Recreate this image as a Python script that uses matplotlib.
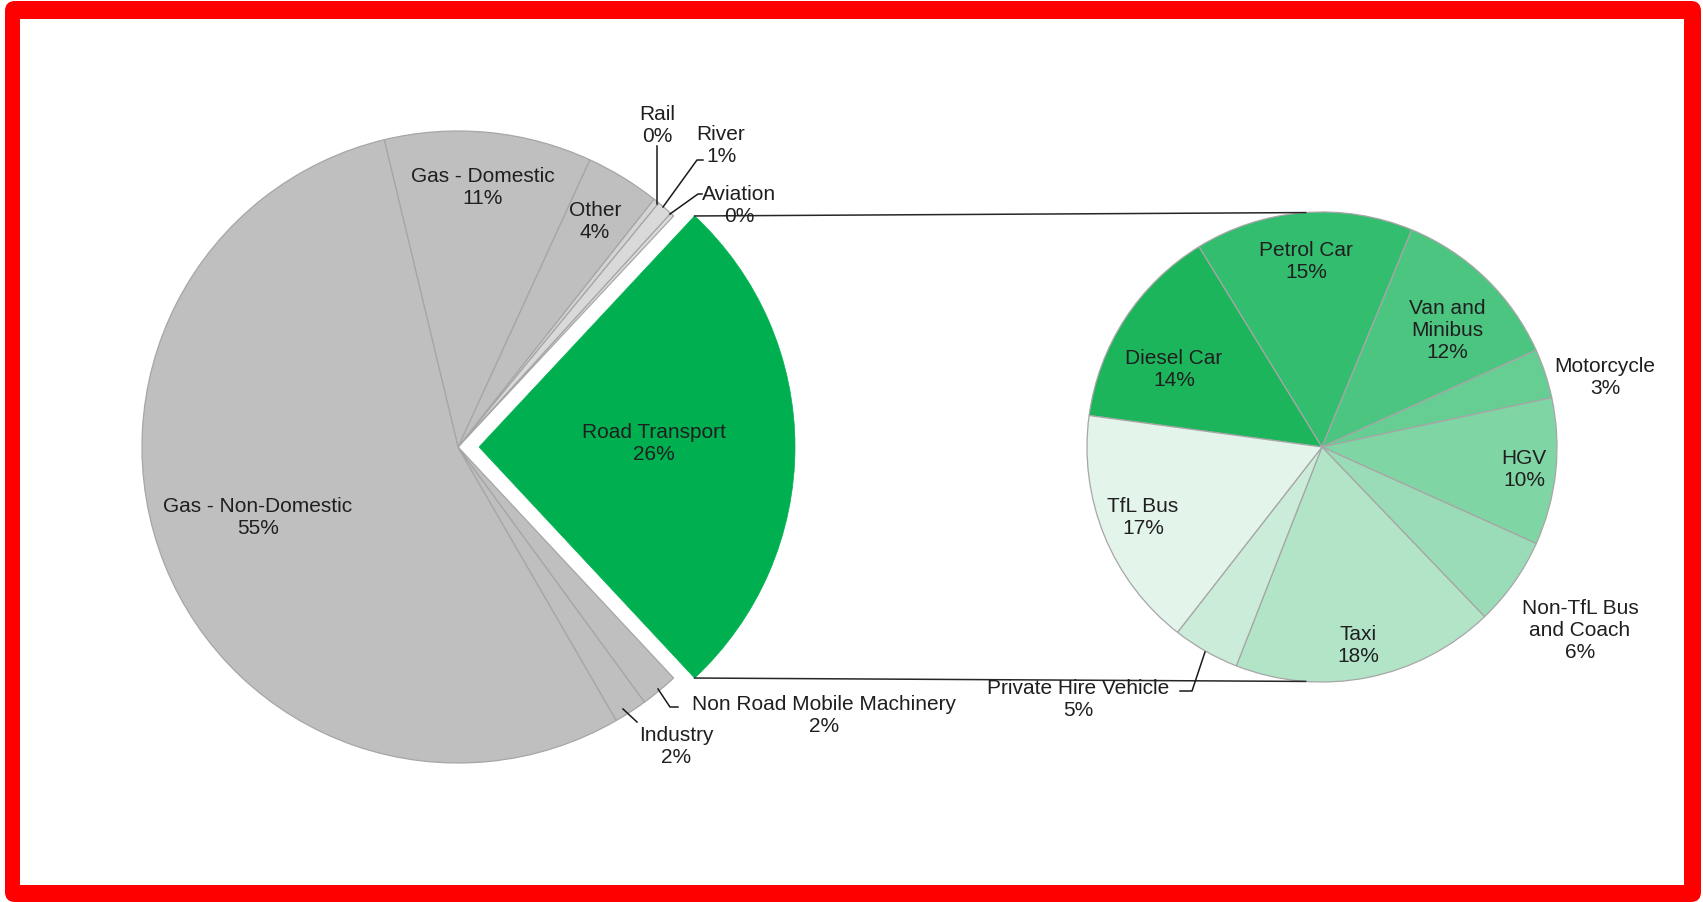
import matplotlib
matplotlib.use("Agg")
import matplotlib.pyplot as plt
from matplotlib.patches import FancyBboxPatch, Rectangle
import numpy as np

W, H = 1703, 903

# ── data ─────────────────────────────────────────────────────────────────────
main_labels = ["Road Transport", "Aviation", "River", "Rail", "Other",
               "Gas - Domestic", "Gas - Non-Domestic", "Industry",
               "Non Road Mobile Machinery"]
main_values = [26.1, 0.2, 0.8, 0.3, 3.8, 10.6, 54.6, 1.7, 1.9]

road_labels = ["Diesel Car", "Petrol Car", "Van and\nMinibus", "Motorcycle", "HGV",
               "Non-TfL Bus\nand Coach", "Taxi", "Private Hire Vehicle", "TfL Bus"]
road_values = [14.1, 15.0, 12.0, 3.4, 10.1, 6.1, 18.1, 4.6, 16.6]

# ── styling ──────────────────────────────────────────────────────────────────
plt.rcParams["font.family"] = ["Liberation Sans", "DejaVu Sans"]
FS = 15
TXT = "#1f1f1f"
EDGE = "#a6a6a6"

main_colors = ["#00b050", "#dcdcdc", "#d9d9d9", "#d4d4d4", "#bfbfbf",
               "#bfbfbf", "#bfbfbf", "#bfbfbf", "#bfbfbf"]
road_colors = ["#1db55c", "#33bd6e", "#4cc581", "#66cd93", "#80d5a5",
               "#9adcb7", "#b2e4c8", "#cbecd9", "#e3f4ea"]


def Y(y):
    # layout positions are measured from the top edge
    return H - y


fig = plt.figure(figsize=(W / 100, H / 100), dpi=100)
fig.patch.set_facecolor("white")
ax = fig.add_axes([0, 0, 1, 1])

# red frame
ax.add_patch(FancyBboxPatch((5, 0), 1696, 901, boxstyle="round,pad=0,rounding_size=10",
                            facecolor="#ff0000", edgecolor="none", zorder=0))
ax.add_patch(Rectangle((20, Y(886)), 1664, 866, facecolor="white",
                       edgecolor="none", zorder=0.5))

# ── main pie ─────────────────────────────────────────────────────────────────
c1, r1 = (458, Y(448)), 316
explode_px = 21          # pie() takes the offset in data units
start1 = -main_values[0] / sum(main_values) * 360 / 2
explode = [explode_px] + [0] * (len(main_values) - 1)
wedges1, _ = ax.pie(main_values, colors=main_colors, startangle=start1,
                    counterclock=True, explode=explode, center=c1, radius=r1,
                    frame=True, wedgeprops=dict(edgecolor=EDGE, linewidth=0.9))
wedges1[0].set_edgecolor("#00b050")
wedges1[0].set_linewidth(0.5)

# ── breakdown pie ────────────────────────────────────────────────────────────
c2, r2 = (1322, Y(448)), 235
ax.pie(road_values, colors=road_colors, startangle=172.3, counterclock=False,
       center=c2, radius=r2, frame=True,
       wedgeprops=dict(edgecolor=EDGE, linewidth=0.9))

# connector lines from the exploded slice corners to the second pie
half = np.deg2rad(main_values[0] / sum(main_values) * 360 / 2)
ex_c = (c1[0] + explode_px, c1[1])
for sgn in (1, -1):
    p0 = (ex_c[0] + r1 * np.cos(half), ex_c[1] + sgn * r1 * np.sin(half))
    a2 = np.deg2rad(94)
    p1 = (c2[0] + r2 * np.cos(a2), c2[1] + sgn * r2 * np.sin(a2))
    ax.plot([p0[0], p1[0]], [p0[1], p1[1]], color="#262626", lw=1.1, zorder=1)

# ── labels ───────────────────────────────────────────────────────────────────
main_pos = {
    "Road Transport": (654, 444),
    "Aviation": (739, 205),
    "River": (721, 145),
    "Rail": (657, 125),
    "Other": (595, 221),
    "Gas - Domestic": (483, 188),
    "Gas - Non-Domestic": (258, 518),
    "Industry": (676, 747),
    "Non Road Mobile Machinery": (824, 716),
}
for name, val in zip(main_labels, main_values):
    x, y = main_pos[name]
    ax.text(x, Y(y), f"{name}\n{val:.0f}%", ha="center", va="center",
            multialignment="center", fontsize=FS, color=TXT, zorder=5)

road_pos = {
    "Diesel Car": (1174, 370),
    "Petrol Car": (1306, 261),
    "Van and\nMinibus": (1447, 331),
    "Motorcycle": (1605, 377),
    "HGV": (1524, 470),
    "Non-TfL Bus\nand Coach": (1580, 630),
    "Taxi": (1358, 646),
    "Private Hire Vehicle": (1078, 699),
    "TfL Bus": (1143, 518),
}
for name, val in zip(road_labels, road_values):
    x, y = road_pos[name]
    ax.text(x, Y(y), f"{name}\n{val:.0f}%", ha="center", va="center",
            multialignment="center", fontsize=FS, color=TXT, zorder=5)

# leader lines for the thin slices
leaders = [
    [(657, 147), (657, 205)],                   # Rail
    [(703, 161), (697, 161), (663, 208)],       # River
    [(702, 195), (698, 195), (670, 215)],       # Aviation
    [(658, 690), (670, 708), (678, 708)],       # Non Road Mobile Machinery
    [(623, 710), (637, 723)],                   # Industry
    [(1205, 653), (1192, 692), (1180, 692)],    # Private Hire Vehicle
]
for pts in leaders:
    xs = [p[0] for p in pts]
    ys = [Y(p[1]) for p in pts]
    ax.plot(xs, ys, color="#1a1a1a", lw=1.1, zorder=4)

ax.set_xlim(0, W)
ax.set_ylim(0, H)
ax.set_aspect("equal")
ax.axis("off")

fig.savefig("out.png", dpi=100, facecolor="white")
